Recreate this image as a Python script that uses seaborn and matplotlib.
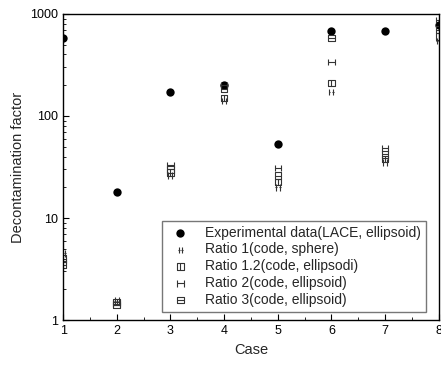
import pandas as pd
import matplotlib.pyplot as plt
import seaborn as sns
from matplotlib.path import Path
from matplotlib.ticker import FixedLocator, LogLocator, NullFormatter

# -----------------------------
# Data
# -----------------------------
cases = [1, 2, 3, 4, 5, 6, 7, 8]
experimental = [580, 18, 170, 200, 53, 680, 680, 780]
ratio_1 = [4.5, 1.55, 26, 140, 20, 172, 35, 540]
ratio_1_2 = [4.0, 1.5, 28, 150, 22.5, 210, 38, 600]
ratio_2 = [3.8, 1.45, 33, 200, 31, 337, 48, 870]
ratio_3 = [3.5, 1.4, 30, 185, 26, 580, 42, 700]

M, L = Path.MOVETO, Path.LINETO

# hollow marker shapes made of line segments
two_bars = Path([(-0.6, -1), (-0.6, 1), (0.6, -1), (0.6, 1),
                 (-0.9, 0), (-0.3, 0), (0.3, 0), (0.9, 0)],
                [M, L, M, L, M, L, M, L])
square_vline = Path([(-1, -1), (1, -1), (1, 1), (-1, 1), (-1, -1), (0, -1), (0, 1)],
                    [M, L, L, L, L, M, L])
h_shape = Path([(-1, -1), (-1, 1), (1, -1), (1, 1), (-1, 0), (1, 0)],
               [M, L, M, L, M, L])
square_hline = Path([(-1, -1), (1, -1), (1, 1), (-1, 1), (-1, -1), (-1, 0), (1, 0)],
                    [M, L, L, L, L, M, L])

sns.set_style("ticks")
plt.rcParams["font.family"] = ["Liberation Sans", "DejaVu Sans"]

fig = plt.figure(figsize=(4.41, 3.65), dpi=100)
ax = fig.add_axes([0.143, 0.123, 0.852, 0.839])

df = pd.DataFrame({"Case": cases, "Value": experimental})
sns.scatterplot(data=df, x="Case", y="Value", marker="o", s=36, color="black",
                linewidth=0, label="Experimental data(LACE, ellipsoid)", ax=ax)

series = [
    ("Ratio 1(code, sphere)", ratio_1, two_bars),
    ("Ratio 1.2(code, ellipsodi)", ratio_1_2, square_vline),
    ("Ratio 2(code, ellipsoid)", ratio_2, h_shape),
    ("Ratio 3(code, ellipsoid)", ratio_3, square_hline),
]

for label, values, marker in series:
    df = pd.DataFrame({"Case": cases, "Value": values})
    sns.scatterplot(data=df, x="Case", y="Value", marker=marker, s=22,
                    facecolor="none", edgecolor="#333333", linewidth=0.8,
                    label=label, ax=ax)

ax.set_yscale("log")
ax.set_xlim(1, 8)
ax.set_ylim(1, 1000)
ax.xaxis.set_major_locator(FixedLocator(cases))
ax.xaxis.set_minor_locator(FixedLocator([c + 0.5 for c in cases[:-1]]))
ax.yaxis.set_minor_locator(LogLocator(base=10, subs=range(2, 10)))
ax.yaxis.set_minor_formatter(NullFormatter())
ax.set_yticks([1, 10, 100, 1000])
ax.set_yticklabels(["1", "10", "100", "1000"])

ax.tick_params(which="both", direction="in", top=False, right=False,
               labelsize=9, colors="black")
ax.tick_params(which="major", length=4)
ax.tick_params(which="minor", length=2)
for sp in ax.spines.values():
    sp.set_visible(True)
    sp.set_linewidth(1.0)
    sp.set_color("black")

ax.set_xlabel("Case", fontsize=10.5)
ax.set_ylabel("Decontamination factor", fontsize=10.5)

ax.legend(loc="lower right", bbox_to_anchor=(0.985, 0.005), fontsize=10,
          frameon=True, fancybox=False, edgecolor="#555555",
          handletextpad=0.8, labelspacing=0.2, borderpad=0.35)

plt.savefig("out.png", dpi=100)
plt.close()
